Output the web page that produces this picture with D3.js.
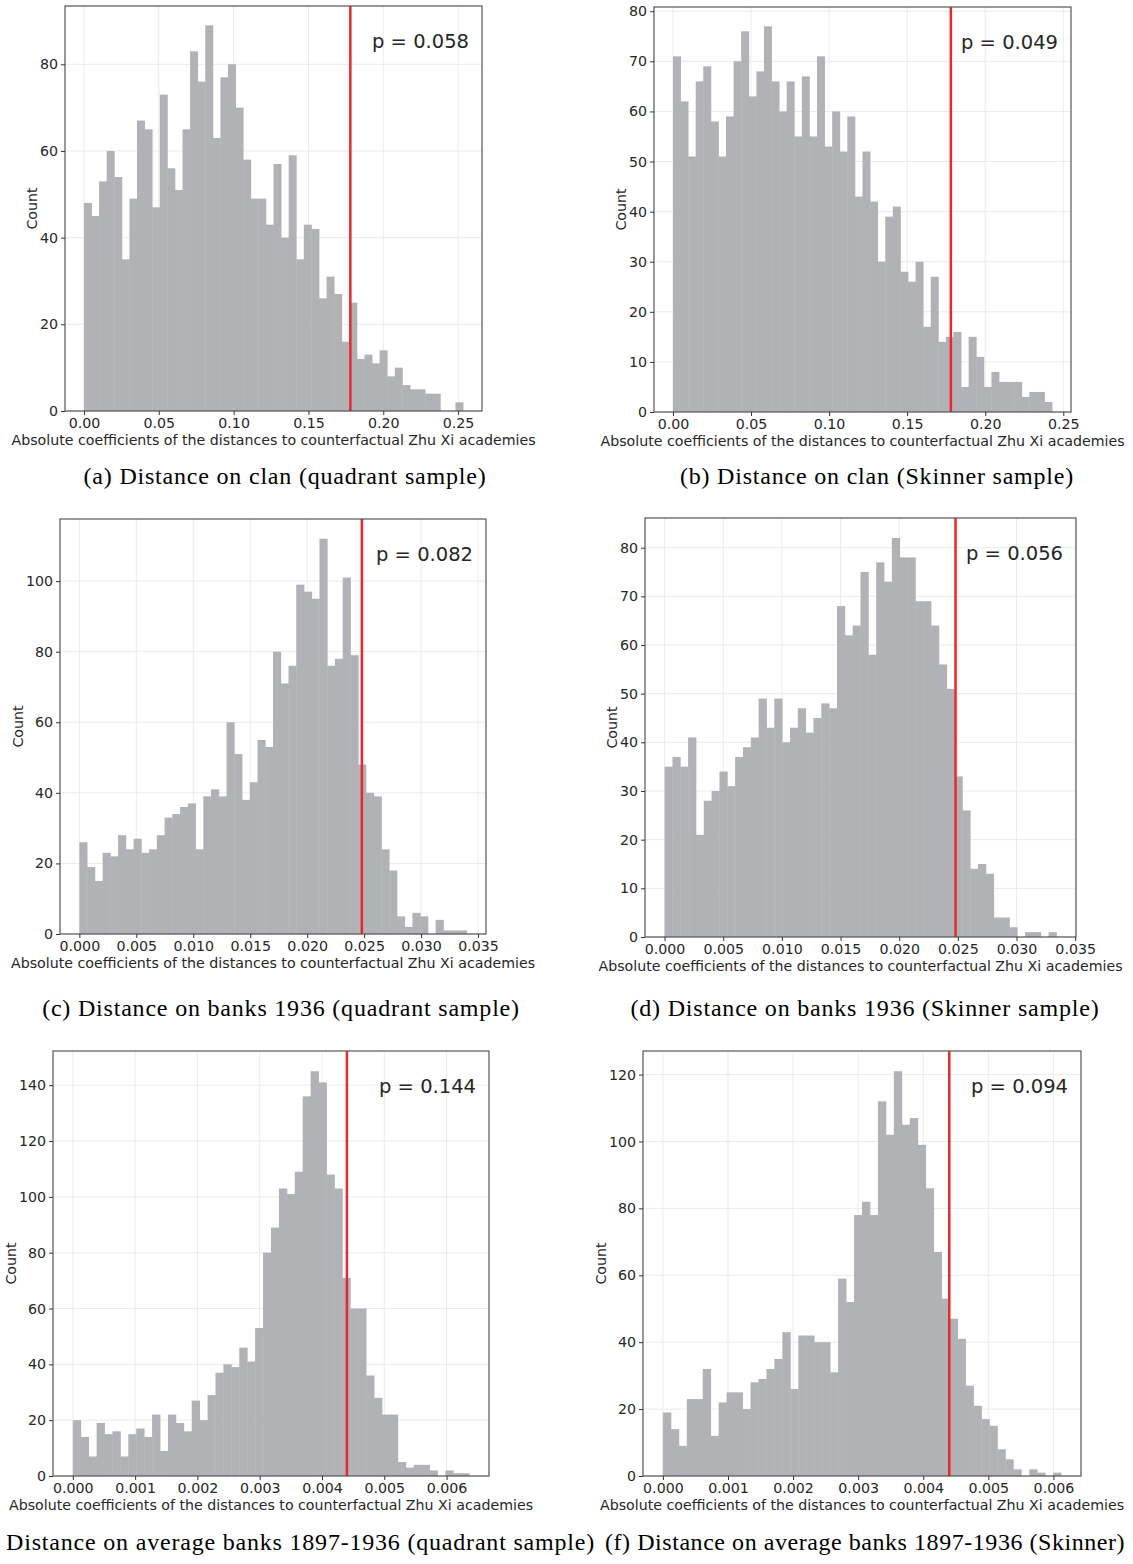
<!DOCTYPE html>
<html lang="en">
<head>
<meta charset="utf-8">
<title>Permutation histograms</title>
<style>
body{
  margin: 0;
  background: #fff;
}
svg text{
  font-family: "DejaVu Sans", sans-serif;
  fill: #262626;
}
.tick text{ font-size: 14.2px; }
.tick line{ stroke: #333; }
.caption{
  font-family: "Liberation Serif", serif;
  font-size: 24px;
  letter-spacing: 0.8px;
  fill: #000;
}
</style>
</head>
<body>
<div id="chart"></div>
<script src="https://d3js.org/d3.v7.min.js"></script>
<script>
// bin counts (50 equal bins from 0 to the upper edge)
var countsA = [48,45,53,60,54,35,49,67,65,47,73,56,51,65,83,76,89,63,77,80,70,58,49,49,43,57,40,59,35,43,42,26,31,27,16,25,12,13,11,14,8,10,6,5,5,4,4,0,0,2];
var countsB = [71,62,51,66,69,58,51,59,70,76,63,68,77,66,60,66,55,67,55,71,53,60,52,59,43,52,42,30,39,41,28,26,30,17,27,14,15,16,5,15,11,5,8,6,6,6,3,4,4,2];
var countsC = [26,19,15,23,22,28,24,27,23,24,28,33,34,36,37,24,39,41,39,60,51,38,43,55,53,80,71,76,99,97,95,112,76,78,101,79,48,40,39,24,18,5,2,6,5,0,4,1,1,1];
var countsD = [35,37,35,41,21,28,30,34,31,37,39,41,49,43,49,40,43,47,42,45,48,47,68,62,64,75,58,77,73,82,78,78,69,69,64,56,51,33,26,14,15,13,4,4,2,0,1,1,0,1];
var countsE = [20,14,7,19,15,16,7,15,17,14,22,9,22,19,16,27,20,29,37,40,39,46,41,53,80,89,103,101,109,136,145,141,108,103,71,60,60,36,28,22,22,5,3,4,4,2,0,2,1,1];
var countsF = [19,14,9,23,23,32,12,22,25,25,20,28,29,32,35,43,26,42,42,40,40,31,59,52,78,82,78,112,102,121,105,107,99,86,67,53,47,41,27,21,17,15,8,5,2,0,2,1,0,1];

// upper edge of the last bin, observed coefficient (red line), p-values
var binTop = [0.2533, 0.2428, 0.0340, 0.0334, 0.006363, 0.006118];
var observed = [0.178, 0.178, 0.0248, 0.0248, 0.0044, 0.0044];
var pLabels = ["p = 0.058", "p = 0.049", "p = 0.082", "p = 0.056", "p = 0.144", "p = 0.094"];

// tick values
var xTicksClan = [0, 0.05, 0.10, 0.15, 0.20, 0.25];
var xTicksBanks = [0, 0.005, 0.010, 0.015, 0.020, 0.025, 0.030, 0.035];
var xTicksAvg = [0, 0.001, 0.002, 0.003, 0.004, 0.005, 0.006];
var yTicksA = [0, 20, 40, 60, 80];
var yTicksB = [0, 10, 20, 30, 40, 50, 60, 70, 80];
var yTicksC = [0, 20, 40, 60, 80, 100];
var yTicksD = [0, 10, 20, 30, 40, 50, 60, 70, 80];
var yTicksE = [0, 20, 40, 60, 80, 100, 120, 140];
var yTicksF = [0, 20, 40, 60, 80, 100, 120];

var captions = [
  "(a) Distance on clan (quadrant sample)",
  "(b) Distance on clan (Skinner sample)",
  "(c) Distance on banks 1936 (quadrant sample)",
  "(d) Distance on banks 1936 (Skinner sample)",
  "(e) Distance on average banks 1897-1936 (quadrant sample)",
  "(f) Distance on average banks 1897-1936 (Skinner)"
];
var xLabel = "Absolute coefficients of the distances to counterfactual Zhu Xi academies";

var allCounts = [countsA, countsB, countsC, countsD, countsE, countsF];
var allXTicks = [xTicksClan, xTicksClan, xTicksBanks, xTicksBanks, xTicksAvg, xTicksAvg];
var allYTicks = [yTicksA, yTicksB, yTicksC, yTicksD, yTicksE, yTicksF];
var xFormats = [".2f", ".2f", ".3f", ".3f", ".3f", ".3f"];

// layout of each subplot box (pixels)
var boxes = [
  { left: 65, top: 6, right: 482, bottom: 411 },
  { left: 654, top: 7, right: 1071, bottom: 412 },
  { left: 60, top: 519, right: 486, bottom: 934 },
  { left: 645, top: 518, right: 1076, bottom: 937 },
  { left: 53, top: 1051, right: 489, bottom: 1476 },
  { left: 643, top: 1051, right: 1081, bottom: 1476 }
];
var capPos = [
  { x: 285, y: 484, anchor: "middle" },
  { x: 877, y: 484, anchor: "middle" },
  { x: 281, y: 1016, anchor: "middle" },
  { x: 865, y: 1016, anchor: "middle" },
  { x: 595, y: 1550, anchor: "end" },
  { x: 605, y: 1550, anchor: "start" }
];

var barColor = "#b1b2b6";
var gridColor = "#ebebeb";
var redColor = "#e8282d";

var svg = d3.select("#chart").append("svg")
  .attr("width", 1133)
  .attr("height", 1564);

function drawPanel(i) {
  var b = boxes[i];
  var counts = allCounts[i];
  var n = counts.length;
  var hi = binTop[i];
  var edges = d3.range(n + 1).map((k) => hi * k / n);

  var x = d3.scaleLinear()
    .domain([-0.05 * hi, 1.05 * hi])
    .range([b.left, b.right]);
  var y = d3.scaleLinear()
    .domain([0, 1.05 * d3.max(counts)])
    .range([b.bottom, b.top]);

  var g = svg.append("g");

  // grid
  g.selectAll(".gx").data(allXTicks[i]).enter().append("line")
    .attr("x1", (d) => x(d)).attr("x2", (d) => x(d))
    .attr("y1", b.top).attr("y2", b.bottom)
    .attr("stroke", gridColor).attr("stroke-width", 1);
  g.selectAll(".gy").data(allYTicks[i]).enter().append("line")
    .attr("x1", b.left).attr("x2", b.right)
    .attr("y1", (d) => y(d)).attr("y2", (d) => y(d))
    .attr("stroke", gridColor).attr("stroke-width", 1);

  // bars
  g.selectAll(".bar").data(counts.map((c, k) => ({ c: c, k: k })).filter((d) => d.c > 0))
    .enter().append("rect")
    .attr("x", (d) => x(edges[d.k]))
    .attr("width", (d) => x(edges[d.k + 1]) - x(edges[d.k]) + 0.4)
    .attr("y", (d) => y(d.c))
    .attr("height", (d) => y(0) - y(d.c))
    .attr("fill", barColor);

  // observed coefficient
  g.append("line")
    .attr("x1", x(observed[i])).attr("x2", x(observed[i]))
    .attr("y1", b.top).attr("y2", b.bottom)
    .attr("stroke", redColor).attr("stroke-width", 2.5);

  // frame
  g.append("rect")
    .attr("x", b.left).attr("y", b.top)
    .attr("width", b.right - b.left).attr("height", b.bottom - b.top)
    .attr("fill", "none").attr("stroke", "#555").attr("stroke-width", 1.2);

  // axes
  var xAxis = d3.axisBottom(x).tickValues(allXTicks[i])
    .tickFormat(d3.format(xFormats[i])).tickSize(4).tickPadding(3);
  var yAxis = d3.axisLeft(y).tickValues(allYTicks[i])
    .tickFormat(d3.format("d")).tickSize(4).tickPadding(3);
  g.append("g").attr("transform", `translate(0, ${b.bottom})`)
    .call(xAxis).call((s) => s.select(".domain").remove());
  var yG = g.append("g").attr("transform", `translate(${b.left}, 0)`)
    .call(yAxis).call((s) => s.select(".domain").remove());
  g.selectAll(".tick text").attr("fill", "#262626");

  var bb = yG.node().getBBox();
  var lx = b.left + bb.x - 3;
  g.append("text")
    .attr("transform", `translate(${lx}, ${(b.top + b.bottom) / 2}) rotate(-90)`)
    .attr("text-anchor", "middle")
    .style("font-size", "14.2px")
    .text("Count");

  g.append("text")
    .attr("x", (b.left + b.right) / 2)
    .attr("y", b.bottom + 34)
    .attr("text-anchor", "middle")
    .style("font-size", "14.2px")
    .text(xLabel);

  g.append("text")
    .attr("x", b.right - 13)
    .attr("y", b.top + 42)
    .attr("text-anchor", "end")
    .style("font-size", "19.5px")
    .text(pLabels[i]);

  svg.append("text")
    .attr("class", "caption")
    .attr("x", capPos[i].x)
    .attr("y", capPos[i].y)
    .attr("text-anchor", capPos[i].anchor)
    .style("letter-spacing", i === 5 ? "0.55px" : null)
    .text(captions[i]);
}

d3.range(6).forEach(drawPanel);
</script>
</body>
</html>
